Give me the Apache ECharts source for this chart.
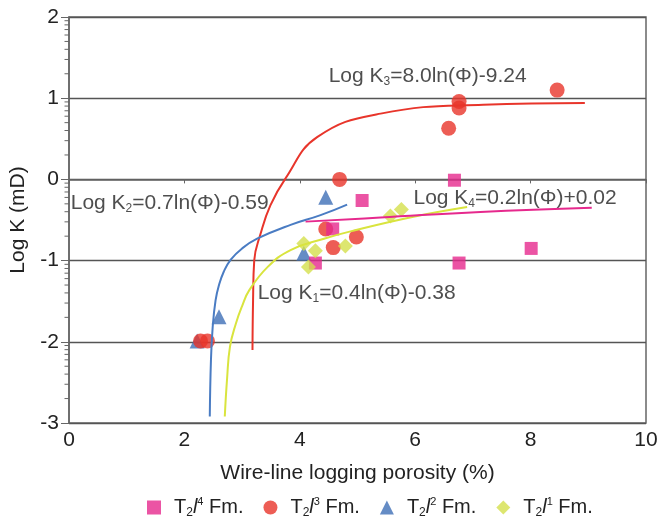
<!DOCTYPE html>
<html>
<head>
<meta charset="utf-8">
<script src="https://cdn.jsdelivr.net/npm/echarts@6/dist/echarts.min.js"></script>
<style>
  html, body { margin: 0; padding: 0; background: #fff; }
  #chart { width: 663px; height: 524px; }
</style>
</head>
<body>
<div id="chart"></div>
<script>
// scatter points [porosity %, log K]
const t2l4Points = [[6.68, -0.01], [5.08, -0.26], [4.57, -0.61], [4.27, -1.03], [6.76, -1.03], [8.01, -0.85]]
const t2l3Points = [[8.46, 1.10], [6.76, 0.96], [6.76, 0.88], [6.58, 0.63], [4.69, 0.00], [4.45, -0.61], [4.58, -0.84], [4.98, -0.71], [2.28, -1.99], [2.40, -1.99]]
const t2l2Points = [[4.45, -0.22], [4.07, -0.91], [2.60, -1.69], [2.22, -1.99]]
const t2l1Points = [[4.07, -0.79], [4.27, -0.88], [4.15, -1.08], [4.79, -0.82], [5.57, -0.45], [5.76, -0.37]]

// fitted curves
const curveK1 = [[2.70, -2.92], [2.74, -2.45], [2.79, -2.06], [2.89, -1.78], [3.00, -1.56], [3.12, -1.37], [3.44, -1.08], [3.84, -0.87], [4.42, -0.73], [4.88, -0.64], [5.97, -0.46], [6.90, -0.34]]
const curveK2 = [[2.44, -2.92], [2.46, -2.23], [2.49, -1.82], [2.54, -1.49], [2.60, -1.30], [2.68, -1.14], [2.80, -0.99], [3.00, -0.85], [3.26, -0.73], [3.84, -0.56], [4.36, -0.44], [4.82, -0.31]]
const curveK3 = [[3.18, -2.10], [3.19, -1.49], [3.21, -1.00], [3.32, -0.67], [3.49, -0.32], [3.75, 0.01], [4.30, 0.52], [5.40, 0.81], [7.18, 0.92], [8.94, 0.94]]
const curveK4 = [[4.10, -0.52], [5.40, -0.47], [7.13, -0.40], [9.06, -0.35]]

// equation labels: anchor [x, y] and text
const eqAnchors = [[4.50, 1.27], [0.03, -0.29], [5.97, -0.23], [3.27, -1.40]]
const eqTexts = [
  '{t|Log K}{sub|3}{t|=8.0ln(Φ)-9.24}',
  '{t|Log K}{sub|2}{t|=0.7ln(Φ)-0.59}',
  '{t|Log K}{sub|4}{t|=0.2ln(Φ)+0.02}',
  '{t|Log K}{sub|1}{t|=0.4ln(Φ)-0.38}'
]

const seriesNames = ['T2l4 Fm.', 'T2l3 Fm.', 'T2l2 Fm.', 'T2l1 Fm.']
const legendSup = ['4', '3', '2', '1']

// log-style minor ticks on the y axis
const minorTicks = []
for (let d = -3; d < 2; d++) {
  for (let k = 2; k <= 9; k++) minorTicks.push([0, d + Math.log10(k)])
}

const FONT = 'Liberation Sans, Arial, sans-serif'
const PINK = '#e6298d'
const RED = '#e8352b'
const BLUE = '#3f6fb6'
const YELLOW = '#d5e04c'

const richText = {
  t: { fontSize: 21, fontFamily: FONT, color: '#222' },
  sub: { fontSize: 12, fontFamily: FONT, color: '#222', verticalAlign: 'bottom', padding: [11, 0, 0, 0] }
}

const curveStyle = color => ({ type: 'line', smooth: 0.45, symbol: 'none', lineStyle: { color, width: 2 } })

const chart = echarts.init(document.getElementById('chart'))
chart.setOption({
  animation: false,
  grid: { left: 68, right: 17, top: 17, bottom: 101, show: true, borderColor: '#666', borderWidth: 1.5 },
  xAxis: {
    type: 'value', min: 0, max: 10, interval: 2,
    name: 'Wire-line logging porosity (%)',
    nameLocation: 'middle', nameGap: 40,
    nameTextStyle: { fontSize: 21, fontFamily: FONT, color: '#222' },
    axisLine: { show: true, lineStyle: { color: '#666', width: 1.5 } },
    axisTick: { show: true, length: 4, lineStyle: { color: '#666' } },
    axisLabel: { fontSize: 21, fontFamily: FONT, color: '#222', margin: 7 },
    splitLine: { show: false }
  },
  yAxis: {
    type: 'value', min: -3, max: 2, interval: 1,
    name: 'Log K (mD)',
    nameLocation: 'middle', nameGap: 40,
    nameTextStyle: { fontSize: 21, fontFamily: FONT, color: '#222' },
    axisLine: { show: true, lineStyle: { color: '#666', width: 1.5 } },
    axisTick: { show: true, length: 8, lineStyle: { color: '#666' } },
    axisLabel: { fontSize: 21, fontFamily: FONT, color: '#222', margin: 10 },
    splitLine: { show: true, lineStyle: { color: '#555', width: 1.3 } }
  },
  legend: {
    bottom: 0, left: 142,
    data: seriesNames,
    itemGap: 20, itemWidth: 14, itemHeight: 14,
    formatter: name => {
      const i = seriesNames.indexOf(name)
      return '{p|}{n|T}{sub|2}{it|l}{sup|' + legendSup[i] + '}{n| Fm.}'
    },
    textStyle: {
      rich: {
        p: { width: 8 },
        n: { fontSize: 20, fontFamily: FONT, color: '#222' },
        it: { fontSize: 20, fontFamily: FONT, fontStyle: 'italic', color: '#222' },
        sub: { fontSize: 12, fontFamily: FONT, color: '#222', verticalAlign: 'bottom', padding: [11, 0, 0, 0] },
        sup: { fontSize: 11, fontFamily: FONT, color: '#222', verticalAlign: 'top', padding: [0, 0, 9, 0] }
      }
    }
  },
  series: [
    {
      type: 'custom', name: 'minor', silent: true, clip: false,
      data: minorTicks,
      renderItem: (params, api) => {
        const p = api.coord([api.value(0), api.value(1)])
        return { type: 'line', shape: { x1: p[0] - 4.5, y1: p[1], x2: p[0], y2: p[1] }, style: { stroke: '#666', lineWidth: 1 } }
      }
    },
    { ...curveStyle(RED), name: 'K3', data: curveK3 },
    { ...curveStyle('#4a7cc3'), name: 'K2', data: curveK2 },
    { ...curveStyle('#d9e43e'), name: 'K1', data: curveK1 },
    { ...curveStyle(PINK), name: 'K4', data: curveK4 },
    { type: 'scatter', name: seriesNames[2], data: t2l2Points, symbol: 'triangle', symbolSize: 15, itemStyle: { color: BLUE } },
    { type: 'scatter', name: seriesNames[1], data: t2l3Points, symbol: 'circle', symbolSize: 15, itemStyle: { color: RED } },
    { type: 'scatter', name: seriesNames[0], data: t2l4Points, symbol: 'rect', symbolSize: 13, itemStyle: { color: PINK } },
    { type: 'scatter', name: seriesNames[3], data: t2l1Points, symbol: 'diamond', symbolSize: 15, itemStyle: { color: YELLOW } },
    {
      type: 'scatter', name: 'eq', silent: true, symbolSize: 0,
      data: eqAnchors.map((p, i) => ({ value: p, label: { formatter: eqTexts[i] } })),
      label: { show: true, position: 'right', distance: 0, rich: richText }
    }
  ]
})
</script>
</body>
</html>
